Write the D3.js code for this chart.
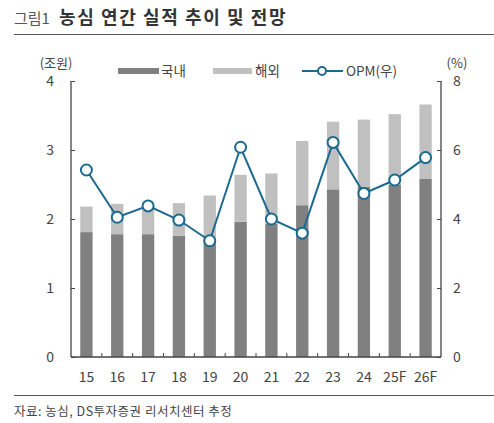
<!DOCTYPE html>
<html>
<head>
<meta charset="utf-8">
<script src="https://cdn.jsdelivr.net/npm/d3@7"></script>
<style>
  body { margin: 0; background: #fff; }
  text { font-family: "Noto Sans CJK KR", "Noto Sans", sans-serif; }
</style>
</head>
<body>
<div id="chart"></div>
<script>
// chart data
const years = ["15", "16", "17", "18", "19", "20", "21", "22", "23", "24", "25F", "26F"];
const domestic = [1.81, 1.78, 1.78, 1.76, 1.72, 1.96, 1.93, 2.20, 2.43, 2.47, 2.50, 2.58];
const overseas = [0.37, 0.44, 0.45, 0.47, 0.62, 0.68, 0.73, 0.93, 0.98, 0.97, 1.02, 1.08];
const opm = [5.42, 4.05, 4.38, 3.97, 3.37, 6.08, 4.00, 3.59, 6.22, 4.74, 5.13, 5.78];
const leftTicks = [0, 1, 2, 3, 4];
const rightTicks = [0, 2, 4, 6, 8];

const width = 494, height = 423;
const margin = { left: 71, right: 53, top: 81, bottom: 66 };

const svg = d3.select("#chart").append("svg")
    .attr("width", width)
    .attr("height", height);

// Title
svg.append("text").attr("x", 14).attr("y", 24)
    .attr("font-size", 15).attr("fill", "#555").text("그림1");
svg.append("text").attr("x", 59).attr("y", 24)
    .attr("font-size", 18).attr("font-weight", 600).attr("fill", "#333")
    .attr("letter-spacing", 1.6)
    .text("농심 연간 실적 추이 및 전망");

svg.append("line")
    .attr("x1", 14).attr("x2", width).attr("y1", 34.5).attr("y2", 34.5)
    .attr("stroke", "#555").attr("stroke-width", 1);

svg.append("line")
    .attr("x1", 14).attr("x2", width).attr("y1", 395.5).attr("y2", 395.5)
    .attr("stroke", "#555").attr("stroke-width", 1);

svg.append("text")
    .attr("x", 14).attr("y", 416)
    .attr("font-size", 12.5).attr("fill", "#444")
    .attr("letter-spacing", 0.5)
    .text("자료: 농심, DS투자증권 리서치센터 추정");

// Scales
const x = d3.scaleBand()
    .domain(years)
    .range([margin.left, width - margin.right])
    .paddingInner(0.6)
    .paddingOuter(0.3);

const xBand = d3.scaleBand()      // for boundary ticks between categories
    .domain(years)
    .range([margin.left, width - margin.right]);

const yL = d3.scaleLinear().domain([0, 4]).range([height - margin.bottom, margin.top]);
const yR = d3.scaleLinear().domain([0, 8]).range([height - margin.bottom, margin.top]);

const colDom = "#808080", colOvs = "#c0c0c0", colLine = "#1c6a8f";

// Bars (stacked)
const bars = svg.append("g");
bars.selectAll(".dom").data(years).join("rect")
    .attr("x", d => x(d))
    .attr("width", x.bandwidth())
    .attr("y", (d, i) => yL(domestic[i]))
    .attr("height", (d, i) => yL(0) - yL(domestic[i]))
    .attr("fill", colDom);

bars.selectAll(".ovs").data(years).join("rect")
    .attr("x", d => x(d))
    .attr("width", x.bandwidth())
    .attr("y", (d, i) => yL(domestic[i] + overseas[i]))
    .attr("height", (d, i) => yL(domestic[i]) - yL(domestic[i] + overseas[i]))
    .attr("fill", colOvs);

// Axes
const axisColor = "#444";
const leftAxis = svg.append("g")
    .attr("transform", `translate(${margin.left},0)`)
    .call(d3.axisRight(yL).tickValues(leftTicks).tickSize(4).tickFormat(""));
const rightAxis = svg.append("g")
    .attr("transform", `translate(${width - margin.right},0)`)
    .call(d3.axisLeft(yR).tickValues(rightTicks).tickSize(4).tickFormat(""));
[leftAxis, rightAxis].forEach(g => {
    g.select(".domain").remove();
    g.selectAll("line").attr("stroke", axisColor);
});
svg.append("line")
    .attr("x1", margin.left).attr("x2", margin.left)
    .attr("y1", yL(4)).attr("y2", yL(0))
    .attr("stroke", axisColor).attr("stroke-width", 1.3);
svg.append("line")
    .attr("x1", width - margin.right).attr("x2", width - margin.right)
    .attr("y1", yR(8)).attr("y2", yR(0))
    .attr("stroke", axisColor).attr("stroke-width", 1.3);

// bottom axis line + boundary ticks
svg.append("line")
    .attr("x1", margin.left).attr("x2", width - margin.right)
    .attr("y1", yL(0)).attr("y2", yL(0))
    .attr("stroke", axisColor).attr("stroke-width", 1.3);
svg.append("g").selectAll("line").data(years.slice(1)).join("line")
    .attr("x1", d => xBand(d)).attr("x2", d => xBand(d))
    .attr("y1", yL(0)).attr("y2", yL(0) - 4)
    .attr("stroke", axisColor);

// Tick labels
svg.append("g").selectAll("text").data(leftTicks).join("text")
    .attr("x", 54).attr("y", d => yL(d))
    .attr("dy", "0.35em").attr("text-anchor", "end")
    .attr("font-size", 14).attr("fill", "#444")
    .text(d => d);
svg.append("g").selectAll("text").data(rightTicks).join("text")
    .attr("x", 453).attr("y", d => yR(d))
    .attr("dy", "0.35em").attr("text-anchor", "start")
    .attr("font-size", 14).attr("fill", "#444")
    .text(d => d);
svg.append("g").selectAll("text").data(years).join("text")
    .attr("x", d => xBand(d) + xBand.bandwidth() / 2).attr("y", 377)
    .attr("dy", "0.35em").attr("text-anchor", "middle")
    .attr("font-size", 14).attr("fill", "#444")
    .text(d => d);

// Unit labels
svg.append("text").attr("x", 56).attr("y", 63).attr("dy", "0.35em")
    .attr("text-anchor", "middle").attr("font-size", 13).attr("fill", "#444").text("(조원)");
svg.append("text").attr("x", 457).attr("y", 63).attr("dy", "0.35em")
    .attr("text-anchor", "middle").attr("font-size", 13).attr("fill", "#444").text("(%)");

// OPM line
const line = d3.line()
    .x((d, i) => x(years[i]) + x.bandwidth() / 2)
    .y(d => yR(d));
svg.append("path")
    .datum(opm)
    .attr("d", line)
    .attr("fill", "none")
    .attr("stroke", colLine)
    .attr("stroke-width", 2);
svg.append("g").selectAll("circle").data(opm).join("circle")
    .attr("cx", (d, i) => x(years[i]) + x.bandwidth() / 2)
    .attr("cy", d => yR(d))
    .attr("r", 5.5)
    .attr("fill", "#fff")
    .attr("stroke", colLine)
    .attr("stroke-width", 2);

// Legend
const legend = svg.append("g").attr("font-size", 13.5).attr("fill", "#444");
legend.append("rect").attr("x", 118).attr("y", 68).attr("width", 41).attr("height", 6).attr("fill", colDom);
legend.append("text").attr("x", 161).attr("y", 71).attr("dy", "0.35em").text("국내");
legend.append("rect").attr("x", 213).attr("y", 68).attr("width", 39).attr("height", 6).attr("fill", colOvs);
legend.append("text").attr("x", 255).attr("y", 71).attr("dy", "0.35em").text("해외");
legend.append("line").attr("x1", 302).attr("x2", 343).attr("y1", 71).attr("y2", 71)
    .attr("stroke", colLine).attr("stroke-width", 2);
legend.append("circle").attr("cx", 322).attr("cy", 71).attr("r", 4)
    .attr("fill", "#fff").attr("stroke", colLine).attr("stroke-width", 2);
legend.append("text").attr("x", 346).attr("y", 71).attr("dy", "0.35em").text("OPM(우)");
</script>
</body>
</html>
